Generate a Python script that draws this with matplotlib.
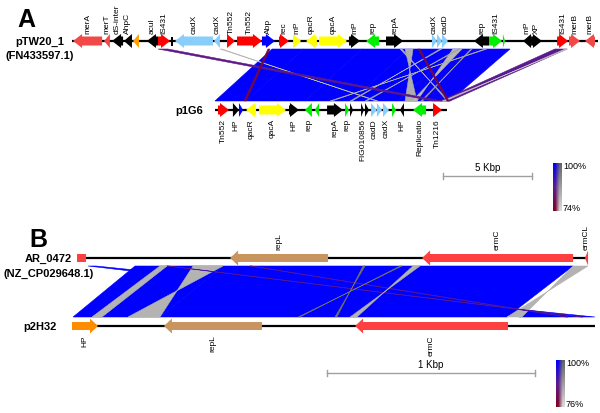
import numpy as np
import matplotlib.pyplot as plt
from matplotlib.patches import Polygon
from matplotlib.colors import LinearSegmentedColormap

plt.rcParams['font.family'] = ['Liberation Sans', 'DejaVu Sans']

W, H = 600, 414

# gene colours
RED = '#ff0000'
LRED = '#f24848'
BLK = '#000000'
ORG = '#ffa000'
LBLU = '#87cefa'
BLU = '#0000ff'
YEL = '#ffff00'
GRN = '#00ee00'
TAN = '#c8945f'
BRED = '#ff4040'
BORG = '#ff8c00'

# ---- panel A (positions in kbp) ----
a_top_name = "pTW20_1"
a_top_acc = "(FN433597.1)"
a_bot_name = "p1G6"
a_top_span = (0.0, 29.55)
a_bot_span = (8.03, 21.07)
# (label, start, end, strand, colour)
a_top_genes = [
    ("merA", 0.06, 1.69, -1, LRED),
    ("merT", 1.80, 2.13, -1, LRED),
    ("dS-inter", 2.25, 2.87, -1, BLK),
    ("AhpC", 2.92, 3.37, -1, BLK),
    ("", 3.43, 3.76, -1, ORG),
    ("acuI", 4.21, 4.83, -1, BLK),
    ("IS431", 4.83, 5.51, 1, RED),
    ("", 5.58, 5.66, 0, BLK),
    ("cadX", 5.79, 7.92, -1, LBLU),
    ("cadX", 7.98, 8.31, -1, LBLU),
    ("Tn552", 8.71, 9.16, 1, RED),
    ("Tn552", 9.27, 10.67, 1, RED),
    ("Abp", 10.67, 11.40, 1, BLU),
    ("rec", 11.63, 12.19, 1, RED),
    ("mP", 12.42, 12.87, 1, YEL),
    ("qacR", 13.15, 13.76, -1, YEL),
    ("qacA", 13.88, 15.45, 1, YEL),
    ("mP", 15.56, 16.18, 1, BLK),
    ("rep", 16.52, 17.25, -1, GRN),
    ("repA", 17.64, 18.60, 1, BLK),
    ("cadX", 20.22, 20.51, 1, LBLU),
    ("", 20.51, 20.79, 1, LBLU),
    ("cadD", 20.79, 21.12, 1, LBLU),
    ("rep", 22.58, 23.43, -1, BLK),
    ("IS431", 23.43, 24.16, 1, GRN),
    ("", 24.21, 24.33, 1, GRN),
    ("mP", 25.34, 25.79, -1, BLK),
    ("XP", 25.79, 26.40, 1, BLK),
    ("IS431", 27.25, 27.87, 1, RED),
    ("merB", 27.92, 28.54, 1, LRED),
    ("merB", 28.82, 29.38, -1, LRED),
]
a_bot_genes = [
    ("Tn552", 8.20, 8.82, 1, RED),
    ("HP", 9.04, 9.38, 1, BLK),
    ("", 9.38, 9.61, 1, BLU),
    ("qacR", 9.78, 10.34, -1, YEL),
    ("qacA", 10.51, 12.02, 1, YEL),
    ("HP", 12.19, 12.75, 1, BLK),
    ("rep", 13.09, 13.48, -1, GRN),
    ("", 13.65, 13.88, -1, GRN),
    ("repA", 14.33, 15.22, 1, BLK),
    ("rep", 15.34, 15.56, 1, GRN),
    ("", 15.62, 15.79, 1, BLK),
    ("FIG010856", 16.24, 16.40, 1, BLK),
    ("", 16.46, 16.69, 1, BLK),
    ("cadD", 16.80, 17.13, 1, LBLU),
    ("", 17.13, 17.42, 1, LBLU),
    ("cadX", 17.47, 17.81, 1, LBLU),
    ("", 17.98, 18.20, 1, GRN),
    ("HP", 18.43, 18.65, -1, BLK),
    ("Replicatio", 19.16, 19.89, -1, GRN),
    ("Tn1216", 20.28, 20.79, 1, RED),
]
# blast hits: (top start, top end, bottom start, bottom end, identity %, inverted)
# bottom start > bottom end gives a crossed (twisted) hit
a_hits = [
    (11.24, 13.00, 8.03, 9.80, 100, False),
    (13.00, 16.30, 9.80, 13.10, 100, False),
    (16.30, 18.90, 13.10, 15.70, 100, False),
    (18.90, 21.50, 15.70, 18.30, 100, False),
    (21.50, 24.61, 18.30, 21.24, 99, False),
    (8.31, 8.43, 17.19, 17.08, 82, True),
    (18.71, 19.16, 19.38, 18.71, 84, True),
    (21.40, 21.91, 19.38, 19.10, 82, True),
    (20.67, 20.78, 15.73, 15.62, 84, True),
    (21.69, 21.80, 16.57, 16.46, 86, True),
    (18.43, 18.54, 21.18, 21.07, 84, True),
    (23.20, 23.31, 14.60, 14.49, 84, True),
    (22.40, 22.48, 19.70, 19.60, 88, True),
    (27.13, 27.81, 20.67, 21.24, 87, False),
    (27.70, 27.85, 20.97, 20.80, 80, True),
    (4.83, 5.39, 20.28, 20.79, 86, False),
    (11.01, 11.12, 9.66, 9.78, 78, False),
    (19.44, 19.55, 21.07, 21.18, 78, False),
]
a_scale_start = 20.84
a_scale_len = 5
a_id_range = (74, 100)

# ---- panel B (positions in kbp) ----
b_top_name = "AR_0472"
b_top_acc = "(NZ_CP029648.1)"
b_bot_name = "p2H32"
b_top_span = (0.0, 2.457)
b_bot_span = (-0.024, 2.49)
b_top_genes = [
    ("", 0.0, 0.043, 0, BRED),
    ("repL", 0.736, 1.207, -1, TAN),
    ("ermC", 1.659, 2.385, -1, BRED),
    ("ermCL", 2.442, 2.457, -1, BRED),
]
b_bot_genes = [
    ("HP", -0.024, 0.101, 1, BORG),
    ("repL", 0.418, 0.889, -1, TAN),
    ("ermC", 1.337, 2.072, -1, BRED),
]
b_hits = [
    (0.053, 0.091, 2.13, 2.49, 100, False),
    (0.279, 0.433, -0.019, 0.120, 100, False),
    (0.433, 0.702, 0.120, 0.399, 100, False),
    (0.702, 2.385, 0.399, 2.067, 100, False),
    (0.399, 0.433, 0.072, 0.120, 84, True),
    (0.558, 0.702, 0.399, 0.245, 84, True),
    (2.385, 2.457, 2.139, 2.067, 84, True),
    (0.433, 0.442, 2.418, 2.433, 90, False),
    (0.832, 0.841, 2.346, 2.361, 90, False),
    (1.375, 1.385, 1.250, 1.240, 97, True),
    (1.553, 1.563, 1.072, 1.063, 97, True),
    (1.615, 1.649, 1.346, 1.313, 84, True),
]
b_scale_start = 1.20
b_scale_len = 1
b_id_range = (76, 100)

fwd_cmap = LinearSegmentedColormap.from_list("fwd", ["#800020", "#5a1a8f", "#0000ff"])
inv_cmap = LinearSegmentedColormap.from_list("inv", ["#dcdcdc", "#626262"])


def draw_gene(ax, s, e, strand, color, y, ppk, bh, hh, hl_px):
    hl = hl_px / ppk
    if strand == 0:
        pts = [(s, y - bh), (e, y - bh), (e, y + bh), (s, y + bh)]
    else:
        if strand < 0:
            s, e = e, s
            hl = -hl
        if abs(e - s) <= abs(hl):
            pts = [(s, y - hh), (e, y), (s, y + hh)]
        else:
            m = e - hl
            pts = [(s, y - bh), (m, y - bh), (m, y - hh), (e, y),
                   (m, y + hh), (m, y + bh), (s, y + bh)]
    ax.add_patch(Polygon(pts, closed=True, facecolor=color, edgecolor='none', zorder=3))


def draw_track(ax, span, genes, y, ppk, bh, hh, hl_px, label_side):
    ax.plot(span, [y, y], color='k', lw=1.6, zorder=2, solid_capstyle='butt')
    for name, s, e, strand, col in genes:
        draw_gene(ax, s, e, strand, col, y, ppk, bh, hh, hl_px)
        if name:
            c = (s + e) / 2
            if label_side == 'top':
                ax.text(c, y - hh - 1, name, rotation=90, ha='center', va='bottom', fontsize=6)
            else:
                ax.text(c, y + hh + 1, name, rotation=90, ha='center', va='top', fontsize=6)


def draw_hits(ax, hits, y_top, y_bot, id_range):
    lo, hi = id_range
    for ts, te, bs, be, ident, inv in hits:
        t = (ident - lo) / (hi - lo)
        col = inv_cmap(t) if inv else fwd_cmap(t)
        pts = [(ts, y_top), (te, y_top), (be, y_bot), (bs, y_bot)]
        ax.add_patch(Polygon(pts, closed=True, facecolor=col, edgecolor=col, lw=0.4, zorder=1))


def draw_scale(ax, x0, length, y, text):
    ax.plot([x0, x0 + length], [y, y], color='#a0a0a0', lw=1)
    ax.plot([x0, x0], [y - 3, y + 3], color='#a0a0a0', lw=1)
    ax.plot([x0 + length, x0 + length], [y - 3, y + 3], color='#a0a0a0', lw=1)
    ax.text(x0 + length / 2, y - 4, text, ha='center', va='bottom', fontsize=7)


def draw_cbar(fig, x, y0, y1, lo_text):
    cax = fig.add_axes([x / W, 1 - y1 / H, 9 / W, (y1 - y0) / H])
    v = np.linspace(1, 0, 100)
    img = np.stack([fwd_cmap(v)[:, :3], inv_cmap(v)[:, :3]], axis=1)
    cax.imshow(img, aspect='auto', interpolation='bilinear')
    cax.axis('off')
    fig.text((x + 10) / W, 1 - (y0 + 3) / H, "100%", fontsize=6.5, va='center')
    fig.text((x + 10) / W, 1 - (y1 - 3) / H, lo_text, fontsize=6.5, va='center')


fig = plt.figure(figsize=(6, 4.14), dpi=100)

# panel A axes: 17.8 px per kbp, kbp 0 at x=72 px
ppk_a = 17.8
axA = fig.add_axes([0, 0, 1, 1])
axA.set_xlim(-72 / ppk_a, (W - 72) / ppk_a)
axA.set_ylim(H, 0)
axA.axis('off')
axA.patch.set_alpha(0)

draw_hits(axA, a_hits, 50, 102, a_id_range)
draw_track(axA, a_top_span, a_top_genes, 42, ppk_a, 4.5, 7, 9, 'top')
draw_track(axA, a_bot_span, a_bot_genes, 111, ppk_a, 4.5, 7, 9, 'bottom')
draw_scale(axA, a_scale_start, a_scale_len, 177, "5 Kbp")

# panel B axes: 208 px per kbp, kbp 0 at x=77 px
ppk_b = 208
axB = fig.add_axes([0, 0, 1, 1])
axB.set_xlim(-77 / ppk_b, (W - 77) / ppk_b)
axB.set_ylim(H, 0)
axB.axis('off')
axB.patch.set_alpha(0)

draw_hits(axB, b_hits, 267, 318, b_id_range)
draw_track(axB, b_top_span, b_top_genes, 259, ppk_b, 4, 7.5, 8, 'top')
draw_track(axB, b_bot_span, b_bot_genes, 327, ppk_b, 4, 7.5, 8, 'bottom')
draw_scale(axB, b_scale_start, b_scale_len, 374, "1 Kbp")

# names
fig.text(40 / W, 1 - 42 / H, a_top_name, ha='center', va='center', fontsize=8, fontweight='bold')
fig.text(40 / W, 1 - 56 / H, a_top_acc, ha='center', va='center', fontsize=8, fontweight='bold')
fig.text(203 / W, 1 - 111 / H, a_bot_name, ha='right', va='center', fontsize=8, fontweight='bold')
fig.text(72 / W, 1 - 259 / H, b_top_name, ha='right', va='center', fontsize=8, fontweight='bold')
fig.text(49 / W, 1 - 274 / H, b_top_acc, ha='center', va='center', fontsize=8, fontweight='bold')
fig.text(57 / W, 1 - 327 / H, b_bot_name, ha='right', va='center', fontsize=8, fontweight='bold')

fig.text(26 / W, 1 - 20 / H, "A", ha='center', va='center', fontsize=18, fontweight='bold')
fig.text(38 / W, 1 - 240 / H, "B", ha='center', va='center', fontsize=18, fontweight='bold')

draw_cbar(fig, 553, 164, 212, "74%")
draw_cbar(fig, 556, 361, 408, "76%")

fig.savefig("out.png", dpi=100)
